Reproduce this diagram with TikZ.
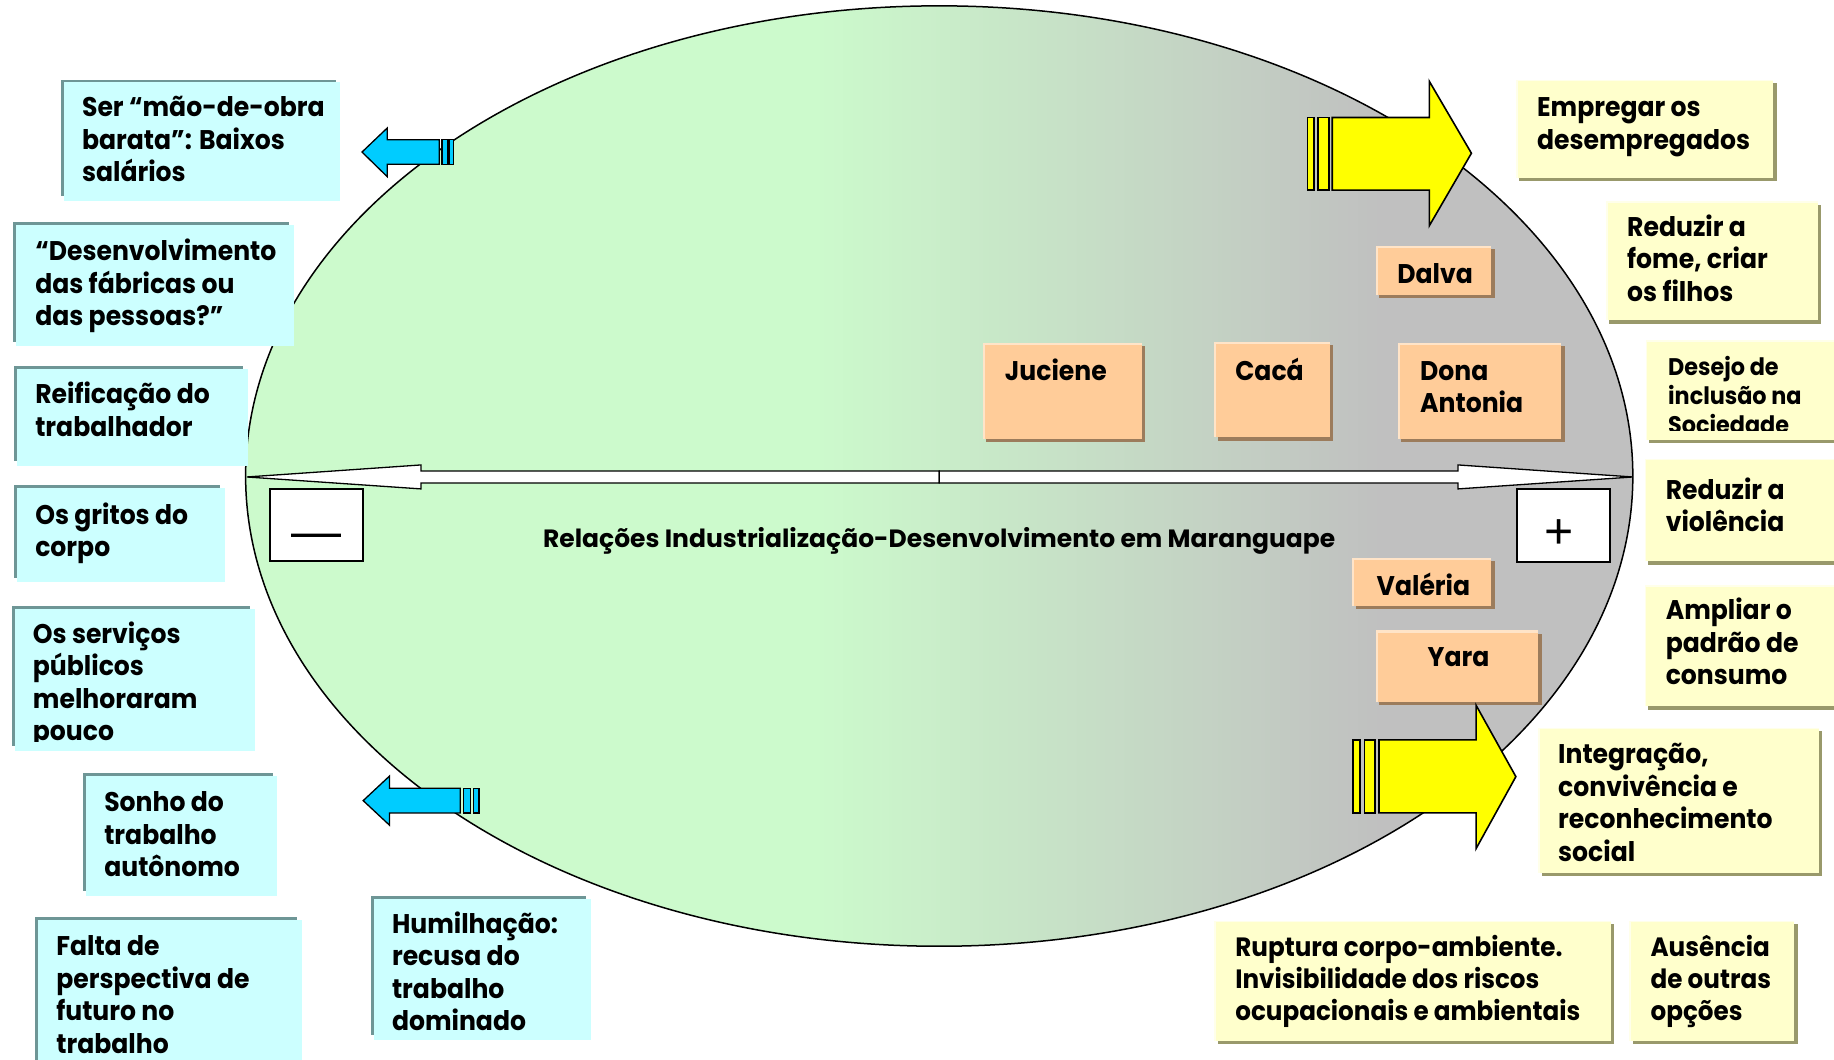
\documentclass[tikz,border=0pt]{standalone}
\usepackage{fontspec}
\setmainfont{Poppins}
\newfontfamily\cardfont{Poppins}[FakeStretch=0.93]
\newfontfamily\signfont{Liberation Sans}

\definecolor{ellgreen}{RGB}{204,250,204}
\definecolor{ellgray}{RGB}{192,192,192}
\definecolor{cyanfill}{RGB}{204,255,255}
\definecolor{cyanedge}{RGB}{110,150,150}
\definecolor{ylwfill}{RGB}{255,255,204}
\definecolor{ylwhigh}{RGB}{255,255,234}
\definecolor{ylwshadow}{RGB}{153,153,107}
\definecolor{namefill}{RGB}{255,204,153}
\definecolor{namehigh}{RGB}{255,228,200}
\definecolor{nameshadow}{RGB}{156,124,92}
\definecolor{arrowcyan}{RGB}{0,204,255}
\definecolor{arrowyellow}{RGB}{255,255,0}

% multi-line text block whose reference point is the first baseline
\newcommand{\ml}[1]{\begin{tabular}[t]{@{}l@{}}#1\end{tabular}}

\tikzset{
  txt/.style={inner sep=0pt, font=\cardfont\bfseries\fontsize{27}{32.5}\selectfont},
  outline/.style={draw=black, line width=1.6pt, line join=miter},
  thinoutline/.style={draw=black, line width=1.3pt, line join=miter},
}

% light-blue card: dark edge up and to the left
\newcommand{\cyanbox}[8]{%
  \fill[cyanedge] (#2,#3) rectangle (#4-4,#5-4);
  \fill[cyanfill] (#2+2.5,#3+2.5) rectangle (#4,#5);
  \begin{scope}
    \clip (#2,#3) rectangle (#4,#5-8);
    \node[txt, anchor=base west] (#1) at (#6,#7) {#8};
  \end{scope}}

% pale-yellow card: shadow down and to the right
\newcommand{\ylwbox}[8]{%
  \fill[ylwshadow] (#2+3,#3+3) rectangle (#4+3,#5+3);
  \fill[ylwhigh] (#2,#3) rectangle (#4,#5);
  \fill[ylwfill] (#2+1.5,#3+1.5) rectangle (#4,#5);
  \begin{scope}
    \clip (#2,#3) rectangle (#4,#5-8);
    \node[txt, anchor=base west] (#1) at (#6,#7) {#8};
  \end{scope}}

% orange name card
\newcommand{\namebox}[9]{%
  \fill[nameshadow] (#2+3,#3+3) rectangle (#4,#5);
  \fill[namehigh] (#2,#3) rectangle (#4-3,#5-3);
  \fill[namefill] (#2+2,#3+2) rectangle (#4-3,#5-3);
  \node[txt, anchor=#6] (#1) at (#7,#8) {#9};}

\begin{document}
\begin{tikzpicture}[x=1.1697pt, y=-1.1697pt]
\useasboundingbox (0,0) rectangle (1568,906);
\fill[white] (0,0) rectangle (1568,906);

% ---- the ellipse, green on the left turning grey on the right
\begin{scope}
  \clip (803,407) ellipse [x radius=593, y radius=402];
  \fill[ellgreen] (200,0) rectangle (701,910);
  \shade[left color=ellgreen, right color=ellgray] (700,0) rectangle (1181,910);
  \fill[ellgray] (1180,0) rectangle (1400,910);
\end{scope}
\draw[black, line width=1.5pt] (803,407) ellipse [x radius=593, y radius=402];

% ---- horizontal axis: two arrows leaving the centre
\filldraw[fill=white, outline, line width=1.3pt]
  (803,402.7) -- (360,402.7) -- (360,397.5) -- (211,407.8) -- (360,418) -- (360,413) -- (803,413) -- cycle;
\filldraw[fill=white, outline, line width=1.3pt]
  (803,402.7) -- (1246.5,402.7) -- (1246.5,397.5) -- (1396,407.8) -- (1246.5,418) -- (1246.5,413) -- (803,413) -- cycle;

% ---- minus and plus signs
\filldraw[fill=white, draw=black, line width=1.3pt] (230.8,418) rectangle (310.3,479.6);
\node[inner sep=0pt, anchor=base, font=\signfont\fontsize{50}{50}\selectfont] (menos) at (270.5,469) {—};
\filldraw[fill=white, draw=black, line width=1.3pt] (1297,418) rectangle (1376.4,480.5);
\node[inner sep=0pt, anchor=base, font=\signfont\fontsize{50}{50}\selectfont] (mais) at (1333,469) {+};

% ---- title
\node[inner sep=0pt, anchor=base, font=\bfseries\fontsize{25}{30}\selectfont] (titulo) at (803,468)
  {Relações Industrialização-Desenvolvimento em Maranguape};

% ---- people
\namebox{dalva}{1176}{210}{1278}{255}{base}{1227}{242}{Dalva}
\namebox{juciene}{840}{293}{979}{378}{base west}{859}{325}{Juciene}
\namebox{caca}{1038}{292}{1140}{377}{base west}{1056}{325}{Cacá}
\namebox{dona}{1195}{293}{1338}{378}{base west}{1214}{325}{\ml{Dona\\Antonia}}
\namebox{valeria}{1156}{477}{1278}{521}{base}{1217}{509}{Valéria}
\namebox{yara}{1176}{539}{1318}{603}{base}{1247}{570}{Yara}

% ---- big yellow arrows (positive side)
\filldraw[fill=arrowyellow, outline]
  (1139,100.5) -- (1222,100.5) -- (1222,69.5) -- (1258,131) -- (1222,193) -- (1222,162.5) -- (1139,162.5) -- cycle;
\filldraw[fill=arrowyellow, outline] (1118,100.5) rectangle (1123.5,162.5);
\filldraw[fill=arrowyellow, outline] (1127,100.5) rectangle (1136,162.5);

\filldraw[fill=arrowyellow, outline]
  (1179,632.5) -- (1262,632.5) -- (1262,603) -- (1296,664) -- (1262,725.5) -- (1262,695) -- (1179,695) -- cycle;
\filldraw[fill=arrowyellow, outline] (1157,632.5) rectangle (1162.5,695);
\filldraw[fill=arrowyellow, outline] (1166.5,632.5) rectangle (1175.5,695);

% ---- small blue arrows (negative side)
\filldraw[fill=arrowcyan, thinoutline]
  (375.5,119.5) -- (331,119.5) -- (331,109.5) -- (309.5,130) -- (331,151) -- (331,140.5) -- (375.5,140.5) -- cycle;
\filldraw[fill=arrowcyan, thinoutline] (378,119.5) rectangle (383,140.5);
\filldraw[fill=arrowcyan, thinoutline] (384.5,119.5) rectangle (388,140.5);

\filldraw[fill=arrowcyan, thinoutline]
  (393.5,674) -- (333,674) -- (333,663.5) -- (310.5,684.5) -- (333,705.5) -- (333,695) -- (393.5,695) -- cycle;
\filldraw[fill=arrowcyan, thinoutline] (396.5,674) rectangle (402.5,695);
\filldraw[fill=arrowcyan, thinoutline] (405,674) rectangle (409.5,695);

% ---- negative aspects
\cyanbox{ser}{52}{68}{291}{172}{70}{100}{\ml{Ser “mão-de-obra\\barata”: Baixos\\salários}}
\cyanbox{desenv}{11}{190}{251}{296}{30}{223}{\ml{“Desenvolvimento\\das fábricas ou\\das pessoas?”}}
\cyanbox{reif}{12}{313}{212}{398}{30}{345}{\ml{Reificação do\\trabalhador}}
\cyanbox{gritos}{12}{415}{192}{498}{30}{448}{\ml{Os gritos do\\corpo}}
\cyanbox{servicos}{10}{518}{218}{642}{28}{550}{\ml{Os serviços\\públicos\\melhoraram\\pouco}}
\cyanbox{sonho}{71}{661}{237}{766}{89}{694}{\ml{Sonho do\\trabalho\\autônomo}}
\cyanbox{falta}{30}{784}{258}{920}{48}{817}{\ml{Falta de\\perspectiva de\\futuro no\\trabalho}}
\cyanbox{humilhacao}{317}{766}{505}{889}{335}{798}{\ml{Humilhação:\\recusa do\\trabalho\\dominado}}

% ---- positive aspects
\ylwbox{empregar}{1296}{68}{1516}{152}{1314}{100}{\ml{Empregar os\\desempregados}}
\ylwbox{fome}{1373}{172}{1554}{274}{1391}{202}{\ml{Reduzir a\\fome, criar\\os filhos}}
\ylwbox{desejo}{1407}{291}{1580}{376}{1426}{321}{\fontsize{24}{29}\selectfont\ml{Desejo de\\inclusão na\\Sociedade}}
\ylwbox{violencia}{1406}{392}{1580}{480}{1424}{427}{\ml{Reduzir a\\violência}}
\ylwbox{ampliar}{1406}{500}{1580}{604}{1424}{530}{\ml{Ampliar o\\padrão de\\consumo}}
\ylwbox{integracao}{1315}{622}{1555}{746}{1332}{653}{\ml{Integração,\\convivência e\\reconhecimento\\social}}
\ylwbox{ruptura}{1038}{787}{1377}{890}{1056}{818}{\fontsize{26.5}{32}\selectfont\ml{Ruptura corpo-ambiente.\\Invisibilidade dos riscos\\ocupacionais e ambientais}}
\ylwbox{ausencia}{1393}{787}{1534}{890}{1411}{818}{\fontsize{26.5}{32}\selectfont\ml{Ausência\\de outras\\opções}}
\end{tikzpicture}
\end{document}
